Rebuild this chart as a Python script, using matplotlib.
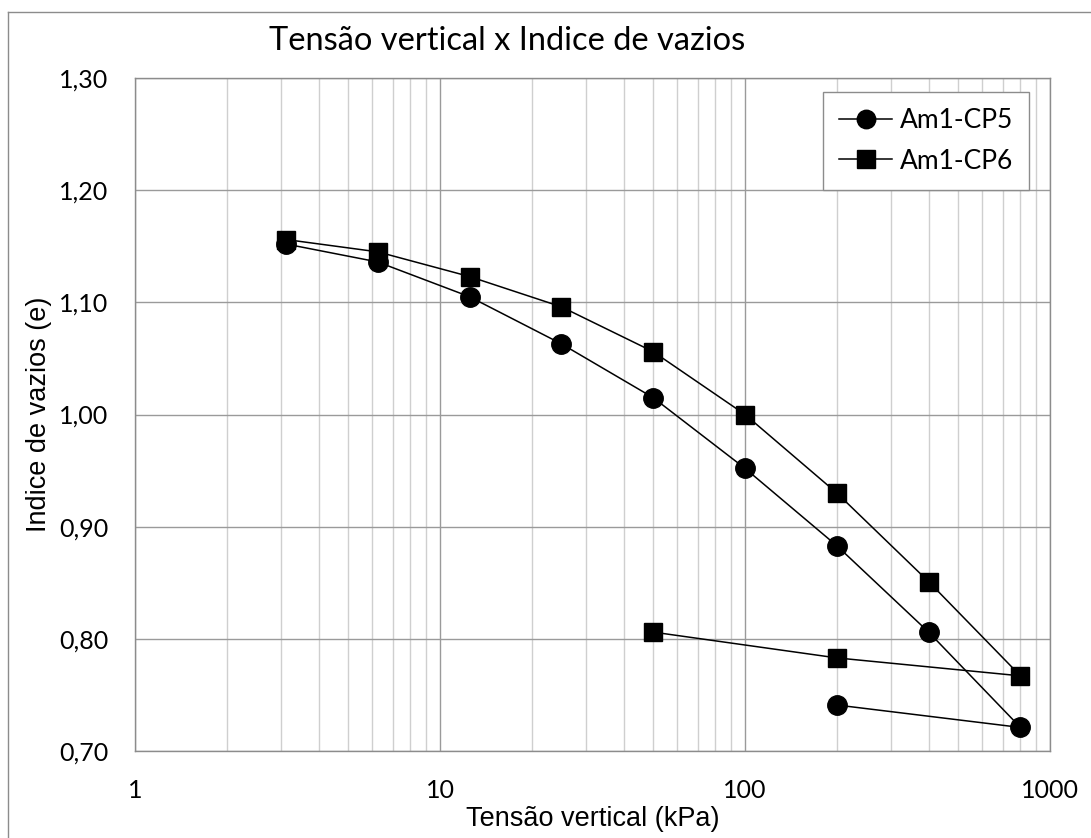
"""
Tensão vertical x Indice de vazios - curva de adensamento
"""
import matplotlib
matplotlib.use('Agg')
import matplotlib.pyplot as plt
from matplotlib.ticker import FuncFormatter, LogLocator, FixedLocator, NullFormatter
from matplotlib.lines import Line2D

# dados (carga e descarga)
tensao_cp5 = [3.125, 6.25, 12.5, 25, 50, 100, 200, 400, 800, 200]
indice_cp5 = [1.152, 1.136, 1.105, 1.063, 1.015, 0.952, 0.883, 0.806, 0.721, 0.741]

tensao_cp6 = [3.125, 6.25, 12.5, 25, 50, 100, 200, 400, 800, 200, 50]
indice_cp6 = [1.156, 1.145, 1.123, 1.096, 1.056, 1.000, 0.930, 0.851, 0.767, 0.783, 0.806]

x_ticks = [1, 10, 100, 1000]
y_ticks = [0.70, 0.80, 0.90, 1.00, 1.10, 1.20, 1.30]

FONTE_CAL = ['Lato', 'DejaVu Sans']
FONTE_ARIAL = ['Liberation Sans', 'DejaVu Sans']

W, H = 1091, 838
fig = plt.figure(figsize=(W / 100, H / 100), dpi=100)
ax = fig.add_axes([135 / W, 1 - 751 / H, (1050 - 135) / W, (751 - 78) / H])

ax.plot(tensao_cp5, indice_cp5, color='black', lw=1.1, marker='o', ms=14,
        label='Am1-CP5')
ax.plot(tensao_cp6, indice_cp6, color='black', lw=1.1, marker='s', ms=13,
        label='Am1-CP6')

ax.set_xscale('log')
ax.set_xlim(1, 1000)
ax.set_ylim(0.70, 1.30)
ax.xaxis.set_major_locator(FixedLocator(x_ticks))
ax.xaxis.set_major_formatter(FuncFormatter(lambda v, p: f'{v:g}'))
ax.xaxis.set_minor_locator(LogLocator(base=10, subs=range(2, 10)))
ax.xaxis.set_minor_formatter(NullFormatter())
ax.yaxis.set_major_locator(FixedLocator(y_ticks))
ax.yaxis.set_major_formatter(FuncFormatter(lambda v, p: f'{v:.2f}'.replace('.', ',')))

ax.grid(True, which='major', color='#9a9a9a', lw=1.0)
ax.grid(True, which='minor', axis='x', color='#cfcfcf', lw=1.0)
ax.set_axisbelow(True)
for s in ax.spines.values():
    s.set_color('#8c8c8c')
    s.set_linewidth(1.0)

ax.tick_params(which='both', length=0)
ax.tick_params(axis='y', pad=19, labelsize=18)
ax.tick_params(axis='x', pad=20, labelsize=18)
for lbl in ax.get_xticklabels() + ax.get_yticklabels():
    lbl.set_family(FONTE_CAL)

ax.set_xlabel('Tensão vertical (kPa)', fontsize=19.5, family=FONTE_ARIAL, labelpad=3)
ax.set_ylabel('Indice de vazios (e)', fontsize=19.5, family=FONTE_ARIAL, labelpad=5)

fig.text(507 / W, 1 - 41 / H, 'Tensão vertical x Indice de vazios',
         ha='center', va='center', fontsize=23.5, family=FONTE_CAL)

leg = ax.legend(loc='upper right', bbox_to_anchor=(1029 / W, 1 - 92 / H),
                bbox_transform=fig.transFigure, borderaxespad=0,
                fancybox=False, framealpha=1, edgecolor='#8c8c8c',
                prop={'family': FONTE_CAL, 'size': 19}, handlelength=2.0,
                labelspacing=0.6, borderpad=0.6, handletextpad=0.3, markerscale=0.95)
leg.get_frame().set_linewidth(1.0)

# moldura da área do gráfico
fig.add_artist(Line2D([7.5 / W, 7.5 / W], [0, 1 - 12 / H], color='#8c8c8c', lw=1.0))
fig.add_artist(Line2D([7.5 / W, 1], [1 - 12 / H, 1 - 12 / H], color='#8c8c8c', lw=1.0))

fig.savefig('out.png', dpi=100)
